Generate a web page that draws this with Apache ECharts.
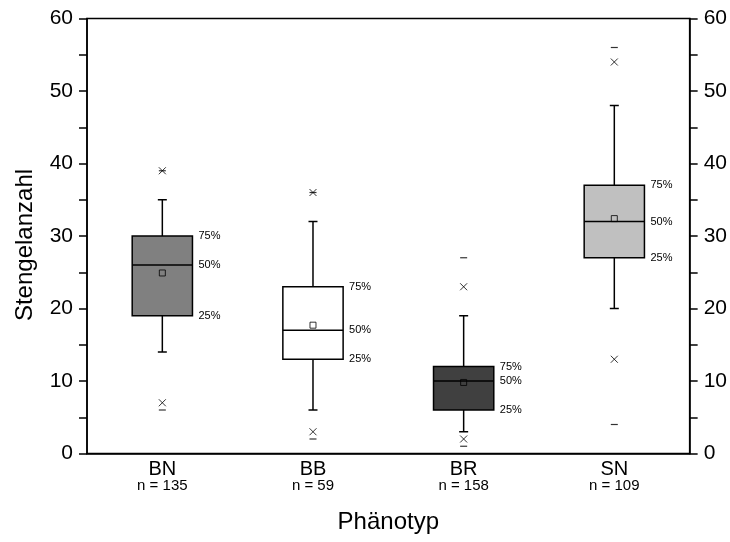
<!DOCTYPE html>
<html><head><meta charset="utf-8">
<script src="https://cdn.jsdelivr.net/npm/echarts@6/dist/echarts.min.js"></script>
<style>html,body{margin:0;padding:0;background:#fff}#c{width:730px;height:542px}</style>
</head><body><div id="c"></div>
<script>
const categories = ['BN', 'BB', 'BR', 'SN'];
const sampleSizes = [135, 59, 158, 109];
const whiskerLow = [14, 6, 3, 20];
const q1 = [19, 13, 6, 27];
const median = [26, 17, 10, 32];
const q3 = [30, 23, 12, 37];
const whiskerHigh = [35, 32, 19, 48];
const means = [24.9, 17.7, 9.8, 32.4];
const outlierHigh = [39, 36, 23, 54];
const outlierLow = [7, 3, 2, 13];
const maxima = [39, 36, 27, 56];
const minima = [6, 2, 1, 4];
const percentLabels = ['25%', '50%', '75%'];
const boxColors = ['#808080', '#ffffff', '#404040', '#c0c0c0'];
const yMin = 0, yMax = 60, yStep = 5, yLabelStep = 10;

const FONT = '"Liberation Sans", Arial, sans-serif';
const chart = echarts.init(document.getElementById('c'), null, { renderer: 'canvas' });

const boxData = categories.map((c, i) => [i, whiskerLow[i], q1[i], median[i], q3[i], whiskerHigh[i]]);
const pts = arr => arr.map((v, i) => [i, v]);

function yLabel(v) { return v % yLabelStep === 0 ? String(v) : ''; }

const yAxisBase = {
  type: 'value', min: yMin, max: yMax, interval: yStep,
  splitLine: { show: false },
  axisLine: { show: true, lineStyle: { color: '#000', width: 1.5 } },
  axisTick: { show: true, length: 8, lineStyle: { color: '#000', width: 1.5 } },
  axisLabel: { formatter: yLabel, fontSize: 21, color: '#000', fontFamily: FONT, margin: 14 }
};

chart.setOption({
  animation: false,
  backgroundColor: '#fff',
  grid: { left: 87, right: 40, top: 18.5, bottom: 88.5, show: true, borderColor: '#000', borderWidth: 1.5 },
  xAxis: {
    type: 'category', data: categories,
    name: 'Phänotyp', nameLocation: 'middle', nameGap: 57,
    nameTextStyle: { fontSize: 24, color: '#000', fontFamily: FONT },
    axisLine: { lineStyle: { color: '#000', width: 1.5 } },
    axisTick: { alignWithLabel: true, length: 8, lineStyle: { color: '#000', width: 1.5 } },
    axisLabel: {
      margin: 6, color: '#000', fontFamily: FONT,
      formatter: (v, i) => '{a|' + v + '}\n{b|n = ' + sampleSizes[i] + '}',
      rich: {
        a: { fontSize: 20, lineHeight: 19, color: '#000', fontFamily: FONT },
        b: { fontSize: 15, lineHeight: 15, color: '#000', fontFamily: FONT }
      }
    }
  },
  yAxis: [
    Object.assign({}, yAxisBase, {
      position: 'left', name: 'Stengelanzahl', nameLocation: 'middle', nameGap: 50,
      nameTextStyle: { fontSize: 24, color: '#000', fontFamily: FONT, padding: [0, 18, 0, 0] }
    }),
    Object.assign({}, yAxisBase, { position: 'right' })
  ],
  series: [
    {
      type: 'custom', data: boxData, encode: { x: 0, y: [1, 2, 3, 4, 5] }, z: 2, silent: true,
      renderItem: function (params, api) {
        const i = api.value(0);
        const xc = api.coord([i, 0])[0];
        const y = k => api.coord([i, api.value(k)])[1];
        const yLo = y(1), yQ1 = y(2), yMed = y(3), yQ3 = y(4), yHi = y(5);
        const w = api.size([1, 0])[0] * 0.4;
        const cap = 4.5;
        const ls = { stroke: '#000', lineWidth: 1.5 };
        const tx = xc + w / 2 + 6;
        const txt = (t, yy) => ({ type: 'text', style: { text: t, x: tx, y: yy, fontSize: 11, fontFamily: FONT, fill: '#000', verticalAlign: 'middle', align: 'left' } });
        return {
          type: 'group',
          children: [
            { type: 'line', shape: { x1: xc, y1: yQ1, x2: xc, y2: yLo }, style: ls },
            { type: 'line', shape: { x1: xc, y1: yQ3, x2: xc, y2: yHi }, style: ls },
            { type: 'line', shape: { x1: xc - cap, y1: yLo, x2: xc + cap, y2: yLo }, style: ls },
            { type: 'line', shape: { x1: xc - cap, y1: yHi, x2: xc + cap, y2: yHi }, style: ls },
            { type: 'rect', shape: { x: xc - w / 2, y: yQ3, width: w, height: yQ1 - yQ3 }, style: { fill: boxColors[params.dataIndex], stroke: '#000', lineWidth: 1.5 } },
            { type: 'line', shape: { x1: xc - w / 2, y1: yMed, x2: xc + w / 2, y2: yMed }, style: ls },
            txt(percentLabels[2], yQ3), txt(percentLabels[1], yMed), txt(percentLabels[0], yQ1)
          ]
        };
      }
    },
    {
      type: 'scatter', data: pts(means), symbol: 'rect', symbolSize: 6, z: 5, silent: true,
      itemStyle: { color: 'transparent', borderColor: '#000', borderWidth: 1 }
    },
    {
      type: 'scatter', data: pts(outlierHigh).concat(pts(outlierLow)), symbol: 'path://M0,0L10,10M10,0L0,10', symbolSize: 7, z: 5, silent: true,
      itemStyle: { color: 'transparent', borderColor: '#000', borderWidth: 1 }
    },
    {
      type: 'scatter', data: pts(maxima).concat(pts(minima)), symbol: 'rect', symbolSize: [7, 1.2], z: 5, silent: true,
      itemStyle: { color: '#000' }
    }
  ]
});
</script>
</body></html>
